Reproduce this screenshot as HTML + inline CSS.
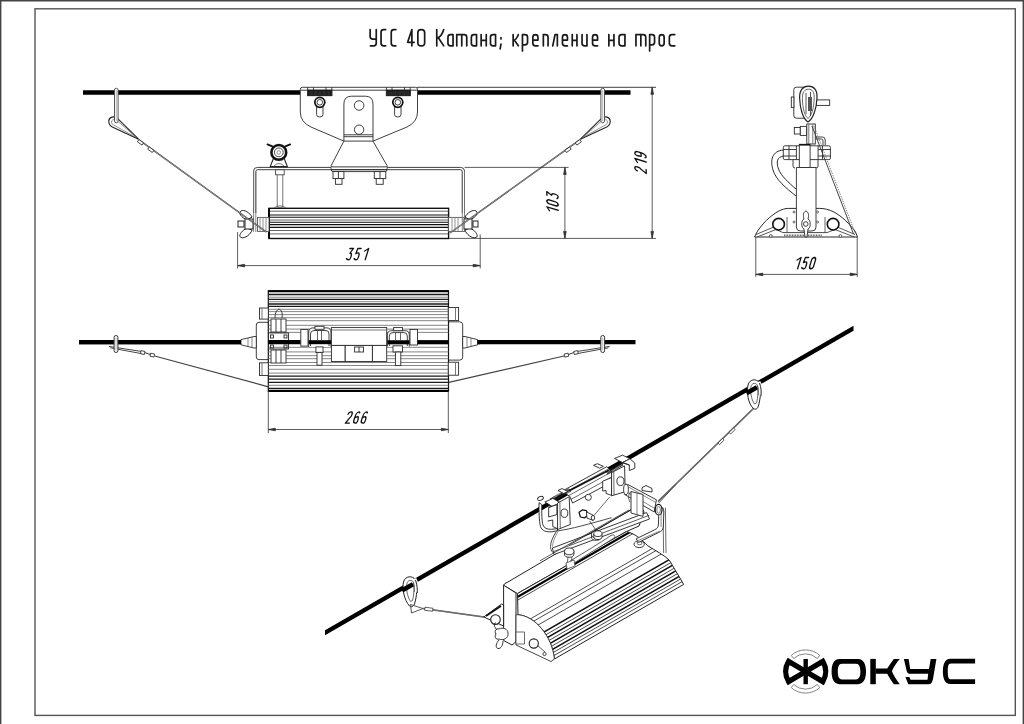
<!DOCTYPE html>
<html><head><meta charset="utf-8"><style>
html,body{margin:0;padding:0;background:#fff;width:1024px;height:724px;overflow:hidden}
svg{display:block}
text{font-family:"Liberation Sans",sans-serif}
</style></head><body>
<svg width="1024" height="724" viewBox="0 0 1024 724">
<rect x="0" y="0" width="1024" height="724" fill="#fff"/>
<!-- outer frame -->
<path d="M0.7,724 V0.7 H1023.3 V724" fill="none" stroke="#444" stroke-width="1.4"/>
<!-- inner frame -->
<rect x="35" y="8.8" width="980.3" height="706.6" fill="none" stroke="#555" stroke-width="1.4"/>
<!-- title -->

<g id="elev" fill="none" stroke="#2a2a2a" stroke-width="0.9">
<!-- cable -->
<path d="M83,92.5 H300.5 M417.5,92.5 H630.5" stroke="#000" stroke-width="4.4"/>
<!-- ext line top (219) -->
<path d="M417,87.3 H656"/>
<!-- bracket plate -->
<path d="M302.3,87.3 H415.5 Q417.5,87.3 417.5,89.3 V112 Q417.5,122 407,127 L373,141.1 H343.9 L311,127 Q300.3,122 300.3,112 V89.3 Q300.3,87.3 302.3,87.3 Z" fill="#fff"/>
<path d="M300.3,90.2 H417.5"/>
<!-- clamps -->
<rect x="307.7" y="90.2" width="24.1" height="5.5" fill="#111" stroke="#111"/>
<rect x="386.4" y="90.2" width="23.8" height="5.5" fill="#111" stroke="#111"/>
<path d="M309.0,91 V95.2 M310.3,91 V95.2 M311.6,91 V95.2 M312.9,91 V95.2 M314.2,91 V95.2 M315.5,91 V95.2 M316.8,91 V95.2 M318.1,91 V95.2 M319.4,91 V95.2 M320.7,91 V95.2 M322.0,91 V95.2 M323.3,91 V95.2 M324.6,91 V95.2 M325.9,91 V95.2 M327.2,91 V95.2 M328.5,91 V95.2 M329.8,91 V95.2 M387.7,91 V95.2 M389.0,91 V95.2 M390.3,91 V95.2 M391.6,91 V95.2 M392.9,91 V95.2 M394.2,91 V95.2 M395.5,91 V95.2 M396.8,91 V95.2 M398.1,91 V95.2 M399.4,91 V95.2 M400.7,91 V95.2 M402.0,91 V95.2 M403.3,91 V95.2 M404.6,91 V95.2 M405.9,91 V95.2 M407.2,91 V95.2 M408.5,91 V95.2" stroke="#777" stroke-width="0.3"/>
<path d="M307.7,87.3 V95.7 M313.5,87.3 V90.2 M326,87.3 V90.2 M331.8,87.3 V95.7 M386.4,87.3 V95.7 M392,87.3 V90.2 M404.5,87.3 V90.2 M410.2,87.3 V95.7"/>
<!-- bolts -->
<g>
<path d="M316.6,105 V114.5 Q316.6,117 319.8,117 Q323,117 323,114.5 V105"/>
<circle cx="319.8" cy="102.3" r="5" fill="#fff" stroke="#111" stroke-width="1.7"/>
<circle cx="319.8" cy="102.3" r="2.8"/>
<path d="M394.6,105 V114.5 Q394.6,117 397.8,117 Q401,117 401,114.5 V105"/>
<circle cx="397.8" cy="102.3" r="5" fill="#fff" stroke="#111" stroke-width="1.7"/>
<circle cx="397.8" cy="102.3" r="2.8"/>
</g>
<!-- center plate -->
<path d="M343.9,141.1 V104 Q343.9,96.2 351.5,96.2 H365.4 Q373,96.2 373,104 V141.1"/>
<path d="M343.9,134.8 H373 M343.9,136.7 H373"/>
<circle cx="359.1" cy="105.5" r="4.8"/>
<circle cx="359.1" cy="129.7" r="4.7"/>
<!-- trapezoid -->
<path d="M343.9,141.1 L331.2,165.5 V169.5 Q331.2,171.6 333,171.6 H385.2 Q387,171.6 387,169.5 V165.5 L373,141.1"/>
<!-- frame bar -->
<path d="M257.5,167.4 H460.7 Q464.5,167.4 464.5,171 V213 M257.5,169.7 H460.5 Q462.3,169.7 462.3,172 V213"/>
<path d="M257.5,167.4 Q253.6,167.4 253.6,171 V213 M257.5,169.7 Q255.8,169.7 255.8,172 V213"/>
<path d="M331.2,167.4 H387" stroke="#fff" stroke-width="1.5"/>
<path d="M331.2,166.9 H387 M331.2,169.7 H387"/>
<!-- nuts -->
<rect x="333" y="171.6" width="10.9" height="7" fill="#fff"/>
<path d="M338.4,171.6 V178.6"/>
<rect x="335.4" y="178.6" width="6.6" height="5.7" fill="#fff"/>
<rect x="374.3" y="171.6" width="11.5" height="7" fill="#fff"/>
<path d="M380,171.6 V178.6"/>
<rect x="376.2" y="178.6" width="7" height="5.7" fill="#fff"/>
<!-- lamp body elevation -->
<rect x="269" y="208.3" width="179.6" height="30.2" fill="#fff" stroke="#111" stroke-width="1.4"/>
<path d="M269,211.2 H448.6 M269,220 H448.6 M269,230.5 H448.6 M269,233.9 H448.6" stroke="#555"/>
<path d="M269,215 H448.6 M269,217.3 H448.6 M269,222.3 H448.6 M269,224.6 H448.6 M269,227.4 H448.6" stroke="#111" stroke-width="1.1"/>
<path d="M269,208.3 V238.5" stroke="#000" stroke-width="1.8"/>
<!-- end nuts -->
<rect x="257.5" y="217.4" width="11.5" height="14" fill="#fff" stroke="#555"/>
<path d="M260,217.4 V231.4 M263,217.4 V231.4 M266,217.4 V231.4" stroke="#888"/>
<rect x="448.6" y="217.4" width="16.4" height="14" fill="#fff" stroke="#555"/>
<path d="M452,217.4 V231.4 M455,217.4 V231.4 M458,217.4 V231.4" stroke="#888"/>
<!-- frame verticals (redraw over) -->
<path d="M253.6,171 V232 M255.8,172 V232 M464.5,171 V232 M462.3,172 V232" stroke="#777"/>
<!-- wing nuts -->
<g stroke="#222" stroke-width="1" fill="#fff">
<path d="M247,220 C241,217 238,213 241,211 C244,209 250,213 252,217 Z"/>
<path d="M247,228 C241,231 238,236 241,237.5 C245,239 251,234 252,230 Z"/>
<rect x="238" y="221" width="6" height="6"/>
<rect x="245" y="219" width="8" height="10"/>
<path d="M470,220 C476,217 479,213 476,211 C473,209 467,213 465,217 Z"/>
<path d="M470,228 C476,231 479,236 476,237.5 C472,239 466,234 465,230 Z"/>
<rect x="473" y="221" width="5" height="6"/>
<rect x="464" y="219" width="8" height="10"/>
</g>
<!-- knob on rod -->
<rect x="277.2" y="170" width="5.6" height="37.5" fill="#fff" stroke="#666"/>
<rect x="275.6" y="169.8" width="8.6" height="5" fill="#fff" stroke="#444"/>
<path d="M274,207.8 Q280,204 286,207.8" stroke="#666"/>
<path d="M270.2,166.6 L273.4,158.5 H284.2 L287.4,166.6 Z" fill="#fff" stroke="#222" stroke-width="1.1"/>
<path d="M274,166 Q279,161 284,166" fill="none" stroke="#555" stroke-width="0.8"/>
<circle cx="278.8" cy="152.4" r="7.4" fill="#fff" stroke="#111" stroke-width="2.6"/>
<circle cx="278.8" cy="152.4" r="4.4" fill="#fff" stroke="#333" stroke-width="0.9"/>
<circle cx="278.8" cy="152.4" r="1.8" fill="none" stroke="#666" stroke-width="0.7"/>
<path d="M267.5,144.4 L272.4,146.4 M290.2,144.4 L285.3,146.4" stroke="#111" stroke-width="1.8" stroke-linecap="round"/>
<!-- hooks -->
<g stroke="#333" stroke-width="0.9" fill="#fff">
<path d="M138.6,139.2 L117.5,118.3 C114,115.6 109,117 108.8,121 C108.6,124.5 110.5,126 112.3,126.9 Z" stroke="#222" stroke-width="1.1"/>
<path d="M136.5,137.6 L116.8,120.4 C114.5,118.8 111.6,119.6 111.5,121.8 C111.4,123.6 112.4,124.4 113.6,125 Z" fill="none" stroke="#666" stroke-width="0.7"/>
<rect x="114.5" y="88.2" width="3.6" height="34.6" rx="1.8" stroke="#444"/>
<path d="M116.3,90 V121" stroke="#999" stroke-width="0.7"/>
<path d="M580.4,139.2 L601.5,118.3 C605,115.6 610,117 610.2,121 C610.4,124.5 608.5,126 606.7,126.9 Z" stroke="#222" stroke-width="1.1"/>
<path d="M582.5,137.6 L602.2,120.4 C604.5,118.8 607.4,119.6 607.5,121.8 C607.6,123.6 606.6,124.4 605.4,125 Z" fill="none" stroke="#666" stroke-width="0.7"/>
<rect x="600.9" y="88.2" width="3.6" height="34.6" rx="1.8" stroke="#444"/>
<path d="M602.7,90 V121" stroke="#999" stroke-width="0.7"/>
</g>
<!-- wires -->
<path d="M138,139.2 L266.5,232.2 M580.8,139.2 L450,233" stroke="#3a3a3a" stroke-width="1.5"/>
<path d="M138,139.2 L266.5,232.2 M580.8,139.2 L450,233" stroke="#e8e8e8" stroke-width="0.45"/>
<path d="M139,139.6 l4.6,3.3 l-1.6,2.2 l-4.6,-3.3 z M149.3,147 l4.6,3.3 l-1.6,2.2 l-4.6,-3.3 z" fill="#fff" stroke="#333"/>
<path d="M579.8,139.6 l-4.6,3.3 l1.6,2.2 l4.6,-3.3 z M569.5,147 l-4.6,3.3 l1.6,2.2 l4.6,-3.3 z" fill="#fff" stroke="#333"/>
<!-- dimensions -->
<g stroke="#333" stroke-width="0.8">
<path d="M237.6,232 V268.5 M480.2,234.5 V268.5 M237.6,265.6 H480.2"/>
<path d="M237.6,265.6 l7,-1.3 v2.6 z M480.2,265.6 l-7,-1.3 v2.6 z" fill="#333"/>
<path d="M464.5,167.4 H568.5 M449,238.4 H656 M564.9,167.4 V238.4 M652.2,87.3 V238.4"/>
<path d="M564.9,167.4 l-1.3,7 h2.6 z M564.9,238.4 l-1.3,-7 h2.6 z M652.2,87.3 l-1.3,7 h2.6 z M652.2,238.4 l-1.3,-7 h2.6 z" fill="#333"/>
</g>
</g>

<g id="side" fill="#fff" stroke="#2a2a2a" stroke-width="0.9">
<!-- top plate -->
<rect x="793.8" y="87.2" width="14" height="31" rx="2.5"/>
<rect x="791.3" y="97" width="2.6" height="10.5"/>
<rect x="816" y="99.9" width="13.7" height="5.5"/>
<!-- carabiner -->
<path d="M808,122 C803,119 800,109 799.6,98 C799.4,90 803,86.1 808.5,86.1 C814,86.1 817.5,90 817,98 C816.5,109 813,119 808,122 Z" stroke="#222" stroke-width="1.2"/>
<path d="M808,118.5 C804.5,116 802.6,108 802.4,98.5 C802.3,92 804.5,89.2 808.5,89.2 C812.5,89.2 814.4,92 814.2,98.5 C813.9,108 811.5,116 808,118.5 Z" stroke="#444" stroke-width="0.8"/>
<path d="M806,93 V114 M810.5,92 V116" stroke="#444"/>
<rect x="808" y="97" width="4" height="14" fill="#555" stroke="none"/>
<!-- lower bolt & bars -->
<rect x="794.3" y="127.5" width="6" height="6.5"/>
<rect x="800.3" y="126.4" width="6.2" height="9"/>
<rect x="806.8" y="124" width="8.5" height="20" />
<path d="M808.8,124 V144 M812.8,124 V144" stroke="#666"/>
<path d="M815.5,137 H822.5 Q825.2,137 825.2,140 V145" fill="none"/>
<path d="M816,139 H821.5 Q823,139 823,141 V145" fill="none"/>
<!-- curved pipe -->
<path d="M783.5,150 C772,151 770,160 773,170 C776,180 786,188 796,196" fill="none" stroke-width="1"/>
<path d="M783.5,156 C777,157 776,162 778.5,169 C781,176 789,183 796,189" fill="none" stroke-width="1"/>
<!-- clamp cylinder -->
<rect x="783.3" y="145.8" width="47.1" height="13.8" rx="1.5"/>
<path d="M789,145.8 V159.6 M796.4,145.8 V159.6 M818.1,145.8 V159.6 M822.5,145.8 V159.6 M783.3,149.5 H796.4 M783.3,156 H796.4 M818.1,149.5 H830.4 M818.1,156 H830.4" fill="none"/>
<rect x="799.3" y="144.3" width="10.8" height="23.2"/>
<path d="M799.3,144.8 H810.1" stroke="#111" stroke-width="1.6"/>
<path d="M793,159.6 V166 Q793,168 795,168 M818,159.6 V166 Q818,168 816,168" fill="none"/>
<!-- base -->
<path d="M754.5,237 L757,232 C762,224 770,216 778,211.5 C782,209.3 785.5,208.4 788.2,208.4 H819.7 C824,208.4 829,209.5 834,212 C842,216.5 850,224 855.5,232 L857.5,237 Z" stroke-width="1"/>
<path d="M783,232.6 H827" fill="none" stroke="#333" stroke-width="0.9"/>
<path d="M784,235.4 H822" fill="none" stroke="#555" stroke-width="1.8" stroke-dasharray="0.9 0.7"/>
<path d="M756,234.5 L775,226.5 M757,237 L776,229.5 M836,226.5 L855,234.5 M835,229.5 L854.5,237" fill="none" stroke="#444" stroke-width="0.9"/>
<path d="M776,229.5 L783,232.6 M835,229.5 L827,232.6" fill="none" stroke="#444" stroke-width="0.9"/>
<circle cx="778.6" cy="224.2" r="5.8" stroke="#111" stroke-width="1.6"/>
<circle cx="833.1" cy="224.2" r="5.8" stroke="#111" stroke-width="1.6"/>
<path d="M787,217 V232 M825,217 V232" fill="none" stroke="#555"/>
<circle cx="770.8" cy="236" r="1.4" stroke="#444"/>
<circle cx="840.4" cy="236" r="1.4" stroke="#444"/>
<!-- central plate -->
<path d="M796.4,167.5 H816 V227 Q816,231 812,231 H800.4 Q796.4,231 796.4,227 Z"/>
<path d="M805.8,211 C803,212 803,216 804,219 C801,220 801,228 804,229 L805,237 L807,237 L808,229 C811,228 811,220 808,219 C809,216 809,212 805.8,211 Z" fill="#fff"/>
<circle cx="805.8" cy="224" r="2.3"/>
<circle cx="794" cy="212" r="1" stroke="#555"/><circle cx="794" cy="222" r="1" stroke="#555"/>
<circle cx="817.5" cy="212" r="1" stroke="#555"/><circle cx="817.5" cy="222" r="1" stroke="#555"/>
<!-- wire -->
<path d="M812,126 L853.5,234" fill="none" stroke="#444" stroke-width="1"/>
<path d="M814,126 L855.5,234" fill="none" stroke="#666" stroke-width="0.8" stroke-dasharray="1.5 1"/>
<!-- dimension 150 -->
<g stroke="#333" stroke-width="0.8" fill="none">
<path d="M755.8,237 V277 M857.2,237 V277 M755.8,274.4 H857.2"/>
<path d="M755.8,274.4 l7,-1.3 v2.6 z M857.2,274.4 l-7,-1.3 v2.6 z" fill="#333"/>
</g>
</g>

<g id="plan" fill="#fff" stroke="#2a2a2a" stroke-width="0.9">
<!-- cable left and right -->
<path d="M79,342.2 H300.8 M388.8,342.2 H635.5" stroke="#000" stroke-width="4.2" fill="none"/>
<!-- end brackets -->
<path d="M268.3,322.3 H259 Q256.3,322.3 256.3,325 V357 Q256.3,359.6 259,359.6 H268.3" />
<path d="M448.3,321.8 H459.7 Q462.7,321.8 462.7,324.8 V357.1 Q462.7,360.1 459.7,360.1 H448.3"/>
<path d="M462.7,336.5 H465 L477.5,339.6 V344.8 L465,348 H462.7 Z"/><path d="M467,337 V347.5 M471,338 V346.5" fill="none" stroke="#555" stroke-width="0.7"/>
<path d="M256.3,336.5 H254 L241,339.6 V344.8 L254,348 H256.3 Z"/><path d="M252,337 V347.5 M248,338 V346.5" fill="none" stroke="#555" stroke-width="0.7"/>
<path d="M79,342.2 H241 M477.5,342.2 H480" stroke="#000" stroke-width="4.2" fill="none"/>
<!-- body -->
<rect x="268.3" y="290.8" width="180.2" height="100.4" stroke="#111" stroke-width="1.2"/>
<path d="M268.3,297.2 H448.5 M268.3,301.7 H448.5 M268.3,309.3 H448.5 M268.3,311.6 H448.5 M268.3,314.6 H448.5 M268.3,317.7 H448.5 M268.3,320.7 H448.5 M268.3,325.3 H448.5 M268.3,329.1 H448.5 M268.3,332.4 H448.5 M268.3,347.3 H448.5 M268.3,351.9 H448.5 M268.3,355.7 H448.5 M268.3,358.7 H448.5 M268.3,362.5 H448.5 M268.3,365.5 H448.5 M268.3,369.3 H448.5 M268.3,373.1 H448.5 M268.3,385.3 H448.5" stroke="#666" stroke-width="0.8" fill="none"/>
<path d="M268.3,294.5 H448.5 M268.3,299.4 H448.5 M268.3,304 H448.5 M268.3,306.3 H448.5 M268.3,376.2 H448.5 M268.3,379.2 H448.5 M268.3,382.3 H448.5 M268.3,388.5 H448.5" stroke="#1a1a1a" stroke-width="1.3" fill="none"/>
<path d="M268.3,291.2 H448.5 M268.3,390.9 H448.5" stroke="#000" stroke-width="2" fill="none"/>
<!-- nut blocks -->
<rect x="259.5" y="308" width="8.8" height="11.1"/>
<rect x="259.5" y="362.8" width="8.8" height="12.7"/>
<rect x="448.3" y="307.5" width="10.3" height="13"/>
<rect x="448.3" y="362.2" width="10.3" height="13"/>
<path d="M262,308 V319.1 M262,362.8 V375.5 M455.5,307.5 V320.5 M455.5,362.2 V375.2" fill="none" stroke="#666"/>
<!-- left side vertical rod / knob -->
<rect x="271" y="319" width="15" height="13" />
<rect x="271" y="350" width="15" height="13" />
<path d="M276,319 V332 M281,319 V332 M276,350 V363 M281,350 V363" fill="none"/>
<path d="M275,318 C275,312 277,310 279,309 C281,310 283,312 282,318" fill="none"/>
<rect x="268.5" y="333" width="20" height="16" fill="none"/>
<rect x="270.5" y="335" width="3" height="3" fill="none"/><rect x="284" y="335" width="3" height="3" fill="none"/>
<rect x="270.5" y="345" width="3" height="3" fill="none"/><rect x="284" y="345" width="3" height="3" fill="none"/>
<path d="M268.3,342.2 H300.8" stroke="#000" stroke-width="4.2" fill="none"/>
<!-- left clamp group -->
<rect x="300.8" y="329.4" width="7.2" height="16.7"/>
<path d="M308.7,346.9 V333 Q308.7,327.9 313,327.9 H327 Q331,327.9 331,333 V346.9" />
<rect x="315" y="326.3" width="9" height="3" />
<path d="M310.5,346 V334 Q310.5,330.5 314,330.5 H326 Q329,330.5 329,334 V346" fill="none"/>
<path d="M308.7,342.2 H331" stroke="#000" stroke-width="4" fill="none"/>
<rect x="315.9" y="346.9" width="7.1" height="5.5"/>
<rect x="317" y="352.4" width="5" height="12.8"/>
<path d="M317.5,330.5 V340 M321.5,330.5 V340" fill="none" stroke="#555"/>
<!-- central box -->
<rect x="331.4" y="327.6" width="55.3" height="17.8"/>
<path d="M331.4,330 H386.7" fill="none" stroke="#666"/>
<rect x="345" y="345.4" width="27.4" height="16.1"/>
<rect x="331.4" y="345.4" width="13.6" height="16.1"/>
<rect x="372.4" y="345.4" width="14.3" height="16.1"/>
<rect x="354.6" y="347" width="8.9" height="5" fill="none"/>
<path d="M359,347 V352" fill="none"/>
<!-- right clamp group -->
<path d="M387.4,346.5 V335 Q387.4,330.7 391.5,330.7 H405.2 Q409.3,330.7 409.3,335 V346.5"/>
<rect x="393.6" y="327.6" width="8.9" height="3.1"/>
<path d="M389.3,346 V336 Q389.3,332.6 393,332.6 H404 Q407.3,332.6 407.3,336 V346" fill="none"/>
<path d="M387.5,342.3 H409.3" stroke="#000" stroke-width="4.1" fill="none"/>
<path d="M395.5,332.6 V340 M400.5,332.6 V340" fill="none" stroke="#555"/>
<rect x="410" y="329.4" width="7.5" height="15.6"/>
<path d="M417.5,342.2 H448.3" stroke="#000" stroke-width="4.2" fill="none"/>
<rect x="393" y="345.8" width="9.5" height="6.2"/>
<rect x="395.4" y="352" width="5.4" height="13.6"/>
<!-- wires -->
<path d="M154.7,356 L268.3,386.8" fill="none" stroke="#444" stroke-width="1.2"/>
<path d="M108.9,346.4 L142.4,351.6 M110.3,347.8 L142.4,353.8" fill="none" stroke="#333" stroke-width="0.9"/>
<path d="M141,350.6 l4,0.9 l-0.6,3 l-4,-0.9 z M150.6,353.2 l4,0.9 l-0.6,3 l-4,-0.9 z" fill="#fff" stroke="#333" stroke-width="0.9"/>
<path d="M145,352.6 L150.6,354.6" fill="none" stroke="#333" stroke-width="1"/>
<path d="M564,356 L448.8,382.4" fill="none" stroke="#444" stroke-width="1.2"/>
<path d="M609.8,346.4 L576.3,351.6 M608.4,347.8 L576.3,353.8" fill="none" stroke="#333" stroke-width="0.9"/>
<path d="M577.7,350.6 l-4,0.9 l0.6,3 l4,-0.9 z M568.1,353.2 l-4,0.9 l0.6,3 l4,-0.9 z" fill="#fff" stroke="#333" stroke-width="0.9"/>
<path d="M573.7,352.6 L568.1,354.6" fill="none" stroke="#333" stroke-width="1"/>
<!-- hooks -->
<rect x="114.1" y="335.5" width="3.8" height="17" rx="1.8" stroke="#333" stroke-width="1"/>
<path d="M116,337.5 V350.5" stroke="#aaa" stroke-width="0.8"/>
<rect x="600.8" y="335.5" width="3.8" height="17" rx="1.8" stroke="#333" stroke-width="1"/>
<path d="M602.7,337.5 V350.5" stroke="#aaa" stroke-width="0.8"/>
<!-- dimension 266 -->
<g stroke="#333" stroke-width="0.8" fill="none">
<path d="M268.3,391 V433 M448.3,391 V433 M268.3,429.5 H448.3"/>
<path d="M268.3,429.5 l7,-1.3 v2.6 z M448.3,429.5 l-7,-1.3 v2.6 z" fill="#333"/>
</g>
</g>

<g id="iso" fill="#fff" stroke="#2a2a2a" stroke-width="0.9" stroke-linejoin="round">
<!-- cable -->
<path d="M325,630.2 L853.5,325.8 L853.5,330.8 L325,635.2 Z" fill="#000" stroke="none"/>
<!-- right wire -->
<path d="M754.5,407.5 L658,501.5" fill="none" stroke="#333" stroke-width="1.5"/>
<path d="M754.5,407.5 L658,501.5" fill="none" stroke="#ddd" stroke-width="0.4"/>
<path d="M733.5,428 l-4.5,4.4 l1.6,1.6 l4.5,-4.4 z M722.5,438.5 l-4.5,4.4 l1.6,1.6 l4.5,-4.4 z" fill="#fff" stroke="#333" stroke-width="0.8"/>
<!-- right carabiner -->
<path d="M753.5,408.5 C748,404 746.5,392 748,385 C749.5,379 756.5,378 759.5,383 C761.5,388 760.5,400 758,407 C757,409.5 755,409.5 753.5,408.5 Z" fill="#fff" stroke="#222" stroke-width="1"/>
<path d="M754.5,404 C751,399 750,391 751,386.5 C752,382.5 756,382.5 757.5,385.5 C758.5,390 758,398 756.5,403 Z" fill="none" stroke="#444" stroke-width="0.8"/>
<!-- left carabiner -->
<path d="M409.5,606 C404,600 402,588 403.5,582 C405,576 412.5,575 415.5,580 C417.5,586 417,596 414.5,604 C413,607 411,607.5 409.5,606 Z" fill="#fff" stroke="#222" stroke-width="1"/>
<path d="M410.5,601.5 C407,596 406,588 407,583.5 C408,579.5 412,579.5 413.5,582.5 C414.5,587 414,595 412.5,600.5 Z" fill="none" stroke="#444" stroke-width="0.8"/>
<!-- cable passing through carabiners: left part over, right side of carabiner over cable -->
<path d="M402,590.6 L413,584.3" stroke="#000" stroke-width="4.6" fill="none"/>
<path d="M746.5,393.3 L757,387.3" stroke="#000" stroke-width="4.6" fill="none"/>
<path d="M414.8,578.8 C416.9,582.5 417.6,587 417.3,592.5" fill="none" stroke="#fff" stroke-width="3.2"/>
<path d="M415.5,580 C417.5,586 417.4,590 417.2,593" fill="none" stroke="#222" stroke-width="1"/>
<path d="M413.5,582.5 C414.4,586 414.4,589 414.2,592" fill="none" stroke="#444" stroke-width="0.8"/>
<path d="M758.8,381.8 C760.9,385.5 761.6,390 761.3,395.5" fill="none" stroke="#fff" stroke-width="3.2"/>
<path d="M759.5,383 C761.5,388 761.2,392 761,396" fill="none" stroke="#222" stroke-width="1"/>
<path d="M757.5,385.5 C758.4,389 758.4,392 758.2,395" fill="none" stroke="#444" stroke-width="0.8"/>
<!-- left thimble + wire -->
<path d="M410.5,604.5 L411.5,613 L423,608.5 Z" fill="none" stroke="#444" stroke-width="0.9"/>
<path d="M423,608.6 L484,617" fill="none" stroke="#333" stroke-width="1.5"/>
<path d="M423,608.6 L484,617" fill="none" stroke="#ddd" stroke-width="0.4"/>
<path d="M425,607.2 l8,1.1 l-0.4,3 l-8,-1.1 z" fill="#fff" stroke="#333" stroke-width="0.8"/>
<!-- iso lamp body -->
<path d="M503.5,585.4 Q504.5,583 507,582.5 L640,504.4 L644,512 L639,526 L626.5,531.5 L517.5,593.5 Z" fill="#fff" stroke="#222" stroke-width="1"/>
<clipPath id="ffc"><path d="M517.5,593.5 L626.5,531.5 C636,534 642,540 647.8,545.8 C656,551 664,555 669.3,560.1 L683.7,584.4 L554.4,659 C552,636 535,616 518,614.7 Z"/></clipPath>
<path d="M517.5,593.5 L626.5,531.5 C636,534 642,540 647.8,545.8 C656,551 664,555 669.3,560.1 L683.7,584.4 L554.4,659 C552,636 535,616 518,614.7 Z" fill="#fff" stroke="none"/>
<g clip-path="url(#ffc)" fill="none">
<path d="M495,613.2 L700,494.9 M495,639.3 L700,521.0 M495,643.5 L700,525.2 M495,649.9 L700,531.6 M495,664.1 L700,545.8 M495,671.6 L700,553.3 M495,678.9 L700,560.6 M495,686.1 L700,567.8 M495,689.6 L700,571.3" stroke="#2a2a2a" stroke-width="0.85"/>
<path d="M495,660.3 L700,542.0 M495,667.8 L700,549.5 M495,675.2 L700,556.9 M495,682.6 L700,564.3" stroke="#111" stroke-width="1.5"/>
<path d="M495,609.9 L700,491.6" stroke="#000" stroke-width="2.2"/>
</g>
<path d="M517.5,593.5 L626.5,531.5 C636,534 642,540 647.8,545.8 C656,551 664,555 669.3,560.1 L683.7,584.4 L554.4,659 C552,636 535,616 518,614.7 Z" fill="none" stroke="#222" stroke-width="1"/>
<!-- frame bar above top face -->
<path d="M552.4,548 L646.6,512.5 L649.5,519 L554,554.6 Z" fill="#fff" stroke="#222" stroke-width="0.9"/>
<path d="M552.8,551.9 L649.2,515.3" fill="none" stroke="#333" stroke-width="0.8"/>
<path d="M540,560.8 L628.9,510" fill="none" stroke="#333" stroke-width="0.8"/>
<path d="M570.5,560.8 C585,552 600,543 611,535.4 C614,534 616,536 614,538 L574,563 Z" fill="#fff" stroke="#333" stroke-width="0.8"/>
<!-- cap nuts on bar -->
<path d="M564.5,551.4 V554 A4.7,3.3 0 0 0 573.9,554 V551.4" fill="#fff" stroke="#222" stroke-width="0.9"/>
<ellipse cx="569.2" cy="551.4" rx="4.7" ry="3.4" fill="#fff" stroke="#222" stroke-width="0.9"/>
<path d="M591.5,534.4 V537 A4.7,3.3 0 0 0 600.9,537 V534.4" fill="#fff" stroke="#222" stroke-width="0.9"/>
<ellipse cx="596.2" cy="534.4" rx="4.7" ry="3.4" fill="#fff" stroke="#222" stroke-width="0.9"/>
<path d="M572,557 L570.5,564 M568,557 L567,565" fill="none" stroke="#444" stroke-width="0.8"/>
<path d="M566,563 L574,560 L575,566 L567,569 Z" fill="#fff" stroke="#444" stroke-width="0.8"/>
<!-- J leg down to bar -->
<path d="M556.3,531.4 C553,537 550.5,542 550.5,546.7 C550.5,549 551.5,551 552.8,552.6" fill="none" stroke="#333" stroke-width="0.9"/>
<path d="M558,531.4 C555,537 552.5,542 552.5,546.7" fill="none" stroke="#666" stroke-width="0.7"/>

<!-- end cap -->
<path d="M503.6,585.2 L516,593 V641.8 L512,645 L503.6,640.5 Z" fill="#fff" stroke="#222" stroke-width="1"/>
<path d="M516,614.7 H518 C535,616 552,636 554.4,659 L551,661.5 L516,645 Z" fill="#fff" stroke="#333" stroke-width="0.9"/>
<rect x="516" y="632" width="8.5" height="12" fill="#fff" stroke="#444" stroke-width="0.8"/>
<circle cx="533.8" cy="643.5" r="4.6" fill="#fff" stroke="#222" stroke-width="1.1"/>
<path d="M537,645 L545,652" stroke="#444" fill="none"/>
<circle cx="544.5" cy="654" r="1.6" fill="#fff" stroke="#333"/>
<!-- left end mechanism -->
<path d="M483.8,617 L501.6,604 L503.6,605 V626 Z" fill="#fff" stroke="#222" stroke-width="1"/>
<path d="M486,616 L501,606" stroke="#111" stroke-width="1.6" fill="none"/>
<circle cx="495.5" cy="619.6" r="4.8" fill="#fff" stroke="#222" stroke-width="1.1"/>
<path d="M499,629 C496,628 494,631 496,634 C494,637 496,640 499,639 C503,641 509,638 508,633 C508,629 503,627 499,629 Z" fill="#fff" stroke="#222"/>
<path d="M499,640 C496,643 495,648 498,648.5 C501,649 503,645 503,641" fill="#fff" stroke="#222"/>
<path d="M497,630 C494,627 493,623 496,623" fill="none" stroke="#222"/>
<!-- iso bracket assembly (traced in zoom coords) -->
<g transform="translate(535 450) scale(0.136724)" stroke="#222" stroke-width="6.6" fill="#fff" stroke-linejoin="round">
<!-- plate lines -->
<path d="M700,440 L250,695" fill="none" stroke-width="6"/>
<path d="M160,592 C260,580 400,540 560,495" fill="none" stroke-width="6"/>
<!-- wire from upper right -->
<path d="M1030,252 L905,388" fill="none" stroke="#444" stroke-width="7"/>
<!-- left J bracket -->
<path d="M30,385 C28,450 30,520 40,560 C52,592 82,602 125,598 L165,590 L165,575 L120,580 C88,582 66,570 58,548 C50,520 48,460 50,400 Z"/>
<!-- rail -->
<path d="M200,300 L525,122 L560,160 L560,235 L275,388 L255,340 Z"/>
<path d="M250,332 L560,160 M215,312 L535,140" fill="none" stroke-width="5"/>
<path d="M262,362 L560,198" fill="none" stroke-width="5"/>
<!-- cable visible hatched above rail -->
<path d="M115,368 L255,292" stroke="#1a1a1a" stroke-width="30" stroke-dasharray="6 3" fill="none"/>
<path d="M525,168 L640,100" stroke="#1a1a1a" stroke-width="30" stroke-dasharray="6 3" fill="none"/>
<path d="M250,298 L540,148" stroke="#111" stroke-width="11" fill="none"/>
<!-- rail end tabs -->
<path d="M168,296 L198,282 L240,304 L210,318 Z"/>
<path d="M428,112 L456,100 L500,120 L472,133 Z"/>
<!-- left clamp block -->
<ellipse cx="40" cy="354" rx="22" ry="14" transform="rotate(-25 40 354)"/>
<path d="M72,380 L132,354 L185,386 L125,412 Z"/>
<path d="M100,420 L160,400 L160,472 L100,490 Z"/>
<path d="M125,412 L100,420" fill="none"/>
<path d="M165,388 L250,342 L258,545 L165,582 Z"/>
<path d="M182,382 L185,575" fill="none" stroke-width="5"/>
<ellipse cx="215" cy="462" rx="25" ry="31"/>
<path d="M92,520 L130,512 L130,560 L165,576" fill="none"/>
<!-- right clamp block -->
<path d="M495,228 L560,202 L560,332 L520,318 L520,296 L495,300 Z"/>
<path d="M560,166 L655,116 L660,305 L560,335 Z"/>
<path d="M576,160 L578,330" fill="none" stroke-width="5"/>
<ellipse cx="625" cy="228" rx="26" ry="32"/>
<path d="M582,62 L640,38 L695,64 L640,92 Z"/>
<path d="M640,92 L695,64 L730,96 L730,134 L690,150 L690,110 Z"/>
<path d="M640,92 L690,110" fill="none"/>
<!-- nuts -->
<circle cx="390" cy="346" r="22"/>
<path d="M322,455 L346,438 L376,444 L388,474 L364,496 L332,490 Z" stroke="#111" stroke-width="9"/>
<path d="M376,452 L428,478 L424,514 L380,498 Z"/>
<ellipse cx="424" cy="496" rx="12" ry="18"/>
<path d="M545,345 L430,480 M400,520 L455,600" fill="none" stroke-width="5"/>
<path d="M430,615 L430,635 A30,20 0 0 0 490,635 L490,615" />
<ellipse cx="460" cy="612" rx="30" ry="21"/>
</g>
<!-- right cylinder, clamp, pipe (source coords) -->
<g stroke="#222" stroke-width="0.9" fill="#fff" stroke-linejoin="round">
<path d="M663,507.6 L663.6,553 M665.4,507.6 L666,553" fill="none" stroke="#444" stroke-width="0.8"/>
<ellipse cx="639.2" cy="544.2" rx="5.2" ry="3.4"/>
<ellipse cx="639.6" cy="543.2" rx="2.4" ry="1.6" fill="none" stroke="#444" stroke-width="0.8"/>
<path d="M660.8,506.5 C663.5,508 664,510 663.8,513 L663.3,527 C663,530 661,531.5 658.6,532.5 L638.5,542.4 L636.2,538.8 L654.6,529.8 C657,528.6 658.2,527.5 658.4,525 L658.7,517 C658.8,515 658,513.5 656.4,512 Z"/>
<path d="M661.2,510 L661,527 M660,531 L637.5,540.8" fill="none" stroke="#555" stroke-width="0.7"/>
<path d="M627.7,484.4 L656.4,499.8 L654.2,512 L624.4,494.3 Z"/>
<path d="M628.5,487 L655.8,502.5 M626,491.5 L654.8,508.5" fill="none" stroke="#555" stroke-width="0.7"/>
<ellipse cx="626" cy="489.4" rx="2.4" ry="5.2"/>
<path d="M631,491.5 L643,494.5 L643,516.4 L631,513 Z"/>
<path d="M637,493 L637,514.7" fill="none" stroke="#555" stroke-width="0.7"/>
<path d="M631,491.5 C628,494 628,499 630,502" fill="none" stroke="#333" stroke-width="0.8"/>
<path d="M642,487.7 L646,485.5 L652,488.5 L652,492 L642,490.5 Z"/>
<ellipse cx="658.6" cy="509.7" rx="3.4" ry="5.3" stroke="#111" stroke-width="1.2"/>
<ellipse cx="658.6" cy="509.9" rx="1.8" ry="3.4" fill="none" stroke="#444" stroke-width="0.7"/>
</g>



</g>
<g id="logo">
<!-- gray arcs -->
<path d="M791.2,655.4 A21.5,21.5 0 0 1 819.8,655.4 L817.3,658.5 A17.3,17.3 0 0 0 793.7,658.5 Z" fill="#fff" stroke="#777" stroke-width="0.9" stroke-linejoin="round"/>
<path d="M791.2,687.6 A21.5,21.5 0 0 0 819.8,687.6 L817.3,684.5 A17.3,17.3 0 0 1 793.7,684.5 Z" fill="#fff" stroke="#777" stroke-width="0.9" stroke-linejoin="round"/>
<!-- bowtie -->
<path d="M788.6,661.4 Q782.6,671.5 788.6,681.6 L805.7,671.5 Z M822.8,661.4 Q828.8,671.5 822.8,681.6 L805.7,671.5 Z" fill="#fff" stroke="#000" stroke-width="5.2" stroke-linejoin="miter"/>
<rect x="803.5" y="659" width="4.4" height="25.2" fill="#000"/>
<!-- O -->
<path fill-rule="evenodd" fill="#000" d="M839.5,659 H858 C864,659 866,665 866,671.6 C866,678.2 864,684.2 858,684.2 H839.5 C833.5,684.2 831.6,678.2 831.6,671.6 C831.6,665 833.5,659 839.5,659 Z M842,663.8 H856 C859.2,663.8 860.4,667 860.4,671.6 C860.4,676.2 859.2,679.4 856,679.4 H842 C838.8,679.4 837.8,676.2 837.8,671.6 C837.8,667 838.8,663.8 842,663.8 Z"/>
<!-- K -->
<rect x="870.3" y="658.9" width="5.5" height="25.3" fill="#000"/>

<path fill="#000" d="M875.5,668.6 H887.2 C889.2,665.4 891.5,662 893.8,658.9 H899.8 C896.6,662.6 893.6,666.8 891.9,671.2 C893.6,675.4 896.6,679.8 899.8,684.2 H893.8 C891.5,681.2 889.2,677.4 887.2,673.8 H875.5 Z"/>
<!-- У -->
<path fill="#000" d="M903.9,658.9 H908.6 L910.2,669 H929 L930.7,658.9 H936.4 L933,679 C932.2,682.5 931,684.2 928.9,684.2 H908.3 L905.4,677 H909.4 L910.5,679.8 H927.5 L928.2,673.7 H909.4 C907.8,673.7 907,672.5 906.6,670.5 Z"/>
<!-- С -->
<path fill="#000" d="M975.1,658.8 V663.6 H951 C948,663.6 947.8,667 947.8,671.5 C947.8,676 948,679.3 951,679.3 H975.1 V684.1 H950.5 C944.5,684.1 942.9,678 942.9,671.5 C942.9,665 944.5,658.8 950.5,658.8 Z"/>
</g>

<g id="title" fill="none" stroke="#1a1a1a" stroke-width="1.7" stroke-linecap="round" stroke-linejoin="round">
<path transform="translate(369.3 46.7)" d="M0.85,-17.15 V-10.2 Q0.85,-7.6 3.45,-7.6 H6.95 M6.95,-17.15 V-3.45 Q6.95,-0.85 4.35,-0.85 H1.15"/>
<path transform="translate(380.2 46.7)" d="M5.45,-17.15 H3.45 Q0.85,-17.15 0.85,-14.55 V-3.45 Q0.85,-0.85 3.45,-0.85 H5.45"/>
<path transform="translate(390.4 46.7)" d="M5.45,-17.15 H3.45 Q0.85,-17.15 0.85,-14.55 V-3.45 Q0.85,-0.85 3.45,-0.85 H5.45"/>
<path transform="translate(406.8 46.7)" d="M5.08,-17.15 L0.85,-4.4 H7.35 M5.08,-17.15 V-0.85"/>
<path transform="translate(417 46.7)" d="M4.05,-17.15 H4.45 Q7.65,-17.15 7.65,-13.95 V-4.05 Q7.65,-0.85 4.45,-0.85 H4.05 Q0.85,-0.85 0.85,-4.05 V-13.95 Q0.85,-17.15 4.05,-17.15 Z"/>
<path transform="translate(435.9 46.7)" d="M0.85,-17.15 V-0.85 M7.85,-17.15 Q5.65,-9.5 0.85,-8.6 M2.45,-9.0 L7.85,-0.85"/>
<path transform="translate(447.1 46.7)" d="M5.95,-12.15 V-0.85 M5.95,-12.15 H3.45 Q0.85,-12.15 0.85,-9.55 V-3.45 Q0.85,-0.85 3.45,-0.85 H5.95"/>
<path transform="translate(455.9 46.7)" d="M0.85,-0.85 V-12.15 H8.25 Q10.85,-12.15 10.85,-9.55 V-0.85 M5.85,-12.15 V-0.85"/>
<path transform="translate(470.5 46.7)" d="M6.050000000000001,-12.15 V-0.85 M6.050000000000001,-12.15 H3.45 Q0.85,-12.15 0.85,-9.55 V-3.45 Q0.85,-0.85 3.45,-0.85 H6.050000000000001"/>
<path transform="translate(480.3 46.7)" d="M0.85,-12.15 V-0.85 M5.95,-12.15 V-0.85 M0.85,-6.4 H5.95"/>
<path transform="translate(489.6 46.7)" d="M5.95,-12.15 V-0.85 M5.95,-12.15 H3.45 Q0.85,-12.15 0.85,-9.55 V-3.45 Q0.85,-0.85 3.45,-0.85 H5.95"/>
<path transform="translate(499.3 46.7)" d="M1.70,-9.2 v1.4 M1.70,-2.6 L0.85,2.2"/>
<path transform="translate(512.3 46.7)" d="M0.85,-12.15 V-0.85 M6.050000000000001,-12.15 Q4.05,-6.6 0.85,-6.0 M2.35,-6.3 L6.050000000000001,-0.85"/>
<path transform="translate(521.6 46.7)" d="M0.85,4.2 V-12.15 H3.35 Q5.95,-12.15 5.95,-9.55 V-4.5 Q5.95,-1.9 3.35,-1.9 H0.85"/>
<path transform="translate(532 46.7)" d="M0.85,-6.6 H5.95 V-9.55 Q5.95,-12.15 3.35,-12.15 H3.45 Q0.85,-12.15 0.85,-9.55 V-3.45 Q0.85,-0.85 3.45,-0.85 H5.95"/>
<path transform="translate(542.5 46.7)" d="M0.85,-0.85 V-12.15 H2.9500000000000006 Q5.550000000000001,-12.15 5.550000000000001,-9.55 V-0.85"/>
<path transform="translate(551.9 46.7)" d="M0.85,-0.85 L3.15,-12.15 H5.45 V-0.85"/>
<path transform="translate(561.6 46.7)" d="M0.85,-6.6 H5.8500000000000005 V-9.55 Q5.8500000000000005,-12.15 3.2500000000000004,-12.15 H3.45 Q0.85,-12.15 0.85,-9.55 V-3.45 Q0.85,-0.85 3.45,-0.85 H5.8500000000000005"/>
<path transform="translate(571.4 46.7)" d="M0.85,-12.15 V-0.85 M5.550000000000001,-12.15 V-0.85 M0.85,-6.4 H5.550000000000001"/>
<path transform="translate(581.2 46.7)" d="M0.85,-12.15 V-3.45 Q0.85,-0.85 3.45,-0.85 H5.75 M5.75,-12.15 V-0.85"/>
<path transform="translate(591.7 46.7)" d="M0.85,-6.6 H5.8500000000000005 V-9.55 Q5.8500000000000005,-12.15 3.2500000000000004,-12.15 H3.45 Q0.85,-12.15 0.85,-9.55 V-3.45 Q0.85,-0.85 3.45,-0.85 H5.8500000000000005"/>
<path transform="translate(608 46.7)" d="M0.85,-12.15 V-0.85 M5.95,-12.15 V-0.85 M0.85,-6.4 H5.95"/>
<path transform="translate(618.2 46.7)" d="M6.75,-12.15 V-0.85 M6.75,-12.15 H3.45 Q0.85,-12.15 0.85,-9.55 V-3.45 Q0.85,-0.85 3.45,-0.85 H6.75"/>
<path transform="translate(635.1 46.7)" d="M0.85,-0.85 V-12.15 H8.05 Q10.65,-12.15 10.65,-9.55 V-0.85 M5.75,-12.15 V-0.85"/>
<path transform="translate(648.8 46.7)" d="M0.85,4.2 V-12.15 H3.15 Q5.75,-12.15 5.75,-9.55 V-4.5 Q5.75,-1.9 3.15,-1.9 H0.85"/>
<path transform="translate(658.4 46.7)" d="M3.45,-12.15 H3.15 Q5.75,-12.15 5.75,-9.55 V-3.45 Q5.75,-0.85 3.15,-0.85 H3.45 Q0.85,-0.85 0.85,-3.45 V-9.55 Q0.85,-12.15 3.45,-12.15 Z"/>
<path transform="translate(668.5 46.7)" d="M6.25,-12.15 H3.45 Q0.85,-12.15 0.85,-9.55 V-3.45 Q0.85,-0.85 3.45,-0.85 H6.25"/>
</g>
<g id="dims" fill="none" stroke="#111" stroke-width="1.35" stroke-linecap="round" stroke-linejoin="round">
<g transform="translate(357.4 260.6)"><path transform="translate(-12.39 0) skewX(-17)" d="M1.15,-12.15 H4.75 L2.65,-7.4 Q4.75,-7.6 4.75,-4.2 Q4.75,-0.85 3.25,-0.85 Q1.45,-0.85 0.85,-2.05"/><path transform="translate(-4.79 0) skewX(-17)" d="M4.75,-12.15 H1.45 L1.15,-7.0 Q2.25,-7.7 3.45,-7.7 Q4.75,-7.7 4.75,-4.2 Q4.75,-0.85 3.25,-0.85 Q1.45,-0.85 0.85,-2.05"/><path transform="translate(2.81 0) skewX(-17)" d="M1.55,-9.55 L4.75,-12.15 V-0.85"/></g>
<g transform="translate(356.7 424.0)"><path transform="translate(-12.39 0) skewX(-17)" d="M0.85,-9.75 Q0.85,-12.15 3.35,-12.15 Q4.75,-12.15 4.75,-9.35 Q4.75,-7.15 3.25,-5.65 L0.85,-0.85 H4.75"/><path transform="translate(-4.79 0) skewX(-17)" d="M4.45,-11.15 Q3.75,-12.15 3.45,-12.15 Q0.85,-12.15 0.85,-6.0 V-3.25 Q0.85,-0.85 3.45,-0.85 Q4.75,-0.85 4.75,-3.85 Q4.75,-7.3 3.45,-7.3 Q1.45,-7.3 0.85,-5.8"/><path transform="translate(2.81 0) skewX(-17)" d="M4.45,-11.15 Q3.75,-12.15 3.45,-12.15 Q0.85,-12.15 0.85,-6.0 V-3.25 Q0.85,-0.85 3.45,-0.85 Q4.75,-0.85 4.75,-3.85 Q4.75,-7.3 3.45,-7.3 Q1.45,-7.3 0.85,-5.8"/></g>
<g transform="translate(805.0 269.6)"><path transform="translate(-12.39 0) skewX(-17)" d="M1.55,-9.55 L4.75,-12.15 V-0.85"/><path transform="translate(-4.79 0) skewX(-17)" d="M4.75,-12.15 H1.45 L1.15,-7.0 Q2.25,-7.7 3.45,-7.7 Q4.75,-7.7 4.75,-4.2 Q4.75,-0.85 3.25,-0.85 Q1.45,-0.85 0.85,-2.05"/><path transform="translate(2.81 0) skewX(-17)" d="M3.45,-12.15 H2.15 Q4.75,-12.15 4.75,-9.55 V-3.45 Q4.75,-0.85 2.15,-0.85 H3.45 Q0.85,-0.85 0.85,-3.45 V-9.55 Q0.85,-12.15 3.45,-12.15 Z"/></g>
<g transform="translate(559.0 202.9) rotate(-90)"><path transform="translate(-12.39 0) skewX(-17)" d="M1.55,-9.55 L4.75,-12.15 V-0.85"/><path transform="translate(-4.79 0) skewX(-17)" d="M3.45,-12.15 H2.15 Q4.75,-12.15 4.75,-9.55 V-3.45 Q4.75,-0.85 2.15,-0.85 H3.45 Q0.85,-0.85 0.85,-3.45 V-9.55 Q0.85,-12.15 3.45,-12.15 Z"/><path transform="translate(2.81 0) skewX(-17)" d="M1.15,-12.15 H4.75 L2.65,-7.4 Q4.75,-7.6 4.75,-4.2 Q4.75,-0.85 3.25,-0.85 Q1.45,-0.85 0.85,-2.05"/></g>
<g transform="translate(647.0 162.2) rotate(-90)"><path transform="translate(-12.39 0) skewX(-17)" d="M0.85,-9.75 Q0.85,-12.15 3.35,-12.15 Q4.75,-12.15 4.75,-9.35 Q4.75,-7.15 3.25,-5.65 L0.85,-0.85 H4.75"/><path transform="translate(-4.79 0) skewX(-17)" d="M1.55,-9.55 L4.75,-12.15 V-0.85"/><path transform="translate(2.81 0) skewX(-17)" d="M1.15,-1.85 Q1.85,-0.85 2.15,-0.85 Q4.75,-0.85 4.75,-7.0 V-9.75 Q4.75,-12.15 2.15,-12.15 Q0.85,-12.15 0.85,-9.15 Q0.85,-5.7 2.15,-5.7 Q4.15,-5.7 4.75,-7.2"/></g>
</g>
</svg>
</body></html>
